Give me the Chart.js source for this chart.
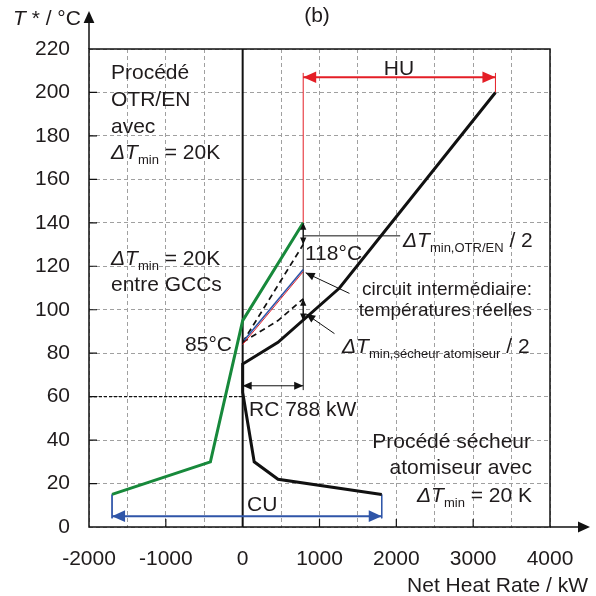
<!DOCTYPE html>
<html>
<head>
<meta charset="utf-8">
<script src="https://cdn.jsdelivr.net/npm/chart.js@4.4.1/dist/chart.umd.min.js"></script>
<style>
  html, body { margin: 0; padding: 0; background: #fff; }
  #wrap { width: 596px; height: 596px; }
</style>
</head>
<body>
<div id="wrap"><canvas id="chart"></canvas></div>
<script>
// grand composite curves (net heat rate in kW, shifted temperature in °C)
const otrX = [-1700, -420, 0, 788];
const otrY = [15, 30, 95, 140];
const secX = [1810, 460, 150, 0, 0, 460, 1260, 3290];
const secY = [15, 22, 30, 62, 75, 85, 110, 200];

// curves shifted by dTmin/2
const otrShiftX = [0, 788];
const otrShiftY = [85, 130];
const secShiftX = [0, 460, 788];
const secShiftY = [85, 95, 105];

// intermediate circuit, real temperatures
const circRedX = [0, 788];
const circRedY = [84, 117.5];
const circBlueX = [20, 788];
const circBlueY = [86, 118.5];

// utilities
const huX = [788, 3290];
const huY = [207, 207];
const cuX = [-1700, 1810];
const cuY = [5, 5];
const rcX = [0, 788];
const rcY = [65, 65];

// axes
const xMin = -2000, xMax = 4000, xStep = 500;
const yMin = 0, yMax = 220, yStep = 20;
const xLabelTicks = [-2000, -1000, 0, 1000, 2000, 3000, 4000];
const xMarkTicks = [-1000, 1000, 2000, 3000];

const GREEN = '#17893b';
const BLACK = '#111111';
const RED = '#e41e26';
const BLUE = '#2f55a8';
const TEXT = '#1f1b1c';
const FAM = '"Liberation Sans", Arial, sans-serif';

const pts = (xs, ys) => xs.map((x, i) => ({ x, y: ys[i] }));
const line = (xs, ys, color, width, extra) =>
  Object.assign({ data: pts(xs, ys), borderColor: color, backgroundColor: color, borderWidth: width,
    showLine: true, pointRadius: 0, fill: false, tension: 0 }, extra || {});

const datasets = [
  line(otrX, otrY, GREEN, 3, { order: 1 }),
  line(secX, secY, BLACK, 3, { order: 1 }),
  line(circBlueX, circBlueY, BLUE, 1.6, { order: 2 }),
  line(circRedX, circRedY, RED, 1, { order: 3 }),
  line(otrShiftX, otrShiftY, BLACK, 1.7, { borderDash: [6, 4], order: 3 }),
  line(secShiftX, secShiftY, BLACK, 1.7, { borderDash: [6, 4], order: 3 }),
  line([0, 0], [yMin, yMax], BLACK, 2, { order: 5 }),
  line([xMin, 0], [60, 60], BLACK, 1.4, { borderDash: [3, 2], order: 5 }),
  // HU
  line(huX, huY, RED, 2, { heads: 'both', headSize: 13, order: 4 }),
  line([788, 788], [140, 209], RED, 1, { order: 4 }),
  line([3290, 3290], [200, 209], RED, 1, { order: 4 }),
  // CU
  line(cuX, cuY, BLUE, 2, { heads: 'both', headSize: 13, order: 4 }),
  line([-1700, -1700], [15, 4], BLUE, 1, { order: 4 }),
  line([1810, 1810], [15, 4], BLUE, 1, { order: 4 }),
  // RC
  line(rcX, rcY, BLACK, 1, { heads: 'both', headSize: 9, order: 4 }),
  line([788, 788], [63, 140], BLACK, 1, { order: 4 }),
  line([788, 2050], [134, 134], BLACK, 1, { order: 4 }),
  // dTmin/2 markers
  line([788, 788], [130, 140], BLACK, 1, { heads: 'both', headSize: 7, order: 4 }),
  line([788, 788], [95, 105], BLACK, 1, { heads: 'both', headSize: 7, order: 4 }),
  // pointers
  line([1390, 820], [107.5, 117], BLACK, 1, { heads: 'end', headSize: 9, order: 4 }),
  line([1195, 827], [89, 98], BLACK, 1, { heads: 'end', headSize: 9, order: 4 })
];

function head(ctx, a, b, size, color) {
  const ang = Math.atan2(b.y - a.y, b.x - a.x);
  ctx.save();
  ctx.translate(b.x, b.y);
  ctx.rotate(ang);
  ctx.beginPath();
  ctx.moveTo(0, 0);
  ctx.lineTo(-size, -size * 0.45);
  ctx.lineTo(-size, size * 0.45);
  ctx.closePath();
  ctx.fillStyle = color;
  ctx.fill();
  ctx.restore();
}

function rich(ctx, x, y, parts, align) {
  let w = 0;
  parts.forEach(p => { ctx.font = p[1]; w += ctx.measureText(p[0]).width; });
  let cx = align === 'right' ? x - w : align === 'center' ? x - w / 2 : x;
  ctx.textBaseline = 'alphabetic';
  ctx.textAlign = 'left';
  parts.forEach(p => {
    ctx.font = p[1];
    ctx.fillText(p[0], cx, y + (p[2] || 0));
    cx += ctx.measureText(p[0]).width;
  });
}

const F = '21px ' + FAM;
const FI = 'italic 21px ' + FAM;
const FS = '13px ' + FAM;
const FC = '19px ' + FAM;
const dT = (sub) => [['Δ', FI], ['T', FI], [sub, FS, 5]];

const texts = [
  [111, 79, [['Procédé', F]], 'left'],
  [111, 106, [['OTR/EN', F]], 'left'],
  [111, 132.5, [['avec', F]], 'left'],
  [111, 158.5, dT('min').concat([[' = 20K', F]]), 'left'],
  [111, 265, dT('min').concat([[' = 20K', F]]), 'left'],
  [111, 291, [['entre GCCs', F]], 'left'],
  [232, 351, [['85°C', F]], 'right'],
  [305, 260, [['118°C', F]], 'left'],
  [399, 75, [['HU', F]], 'center'],
  [403, 247, dT('min,OTR/EN').concat([[' / 2', F]]), 'left'],
  [532, 295, [['circuit intermédiaire:', FC]], 'right'],
  [532, 316, [['températures réelles', FC]], 'right'],
  [342, 353, dT('min,sécheur atomiseur').concat([[' / 2', F]]), 'left'],
  [249, 416, [['RC 788 kW', F]], 'left'],
  [531, 448, [['Procédé sécheur', F]], 'right'],
  [532, 474, [['atomiseur avec', F]], 'right'],
  [532, 502, dT('min').concat([[' = 20 K', F]]), 'right'],
  [247, 511, [['CU', F]], 'left'],
  [317, 21.5, [['(b)', F]], 'center'],
  [13, 25, [['T', FI], [' * / °C', F]], 'left'],
  [588, 592, [['Net Heat Rate / kW', F]], 'right']
];

const decor = {
  id: 'decor',
  afterDatasetsDraw(chart) {
    const ctx = chart.ctx;
    const a = chart.chartArea;
    const xs = chart.scales.x, ys = chart.scales.y;

    chart.data.datasets.forEach((ds, i) => {
      if (!ds.heads) return;
      const p = chart.getDatasetMeta(i).data;
      const n = p.length;
      if (ds.heads !== 'start') head(ctx, p[n - 2], p[n - 1], ds.headSize, ds.borderColor);
      if (ds.heads !== 'end') head(ctx, p[1], p[0], ds.headSize, ds.borderColor);
    });

    ctx.save();
    ctx.strokeStyle = BLACK;
    ctx.lineWidth = 1.5;
    ctx.strokeRect(a.left, a.top, a.right - a.left, a.bottom - a.top);
    // axis arrows
    ctx.beginPath();
    ctx.moveTo(a.left, a.top);
    ctx.lineTo(a.left, 20);
    ctx.moveTo(a.right, a.bottom);
    ctx.lineTo(580, a.bottom);
    ctx.stroke();
    head(ctx, { x: a.left, y: a.top }, { x: a.left, y: 11 }, 12, BLACK);
    head(ctx, { x: a.left, y: a.bottom }, { x: 590, y: a.bottom }, 12, BLACK);
    // inner tick marks
    ctx.lineWidth = 1.2;
    ctx.beginPath();
    xMarkTicks.forEach(v => {
      const px = xs.getPixelForValue(v);
      ctx.moveTo(px, a.bottom);
      ctx.lineTo(px, a.bottom - 8);
    });
    for (let v = yMin + yStep; v < yMax; v += yStep) {
      const py = ys.getPixelForValue(v);
      ctx.moveTo(a.left, py);
      ctx.lineTo(a.left + 8, py);
    }
    ctx.stroke();

    ctx.fillStyle = TEXT;
    texts.forEach(t => rich(ctx, t[0], t[1], t[2], t[3]));
    ctx.restore();
  }
};

new Chart(document.getElementById('chart'), {
  type: 'scatter',
  data: { datasets },
  options: {
    responsive: true,
    maintainAspectRatio: false,
    animation: false,
    layout: { padding: { left: 0, right: 46, top: 49, bottom: 0 } },
    plugins: { legend: { display: false }, tooltip: { enabled: false } },
    scales: {
      x: {
        type: 'linear', min: xMin, max: xMax,
        afterFit: s => { s.height = 69; },
        grid: { color: '#a0a0a0', lineWidth: 1, drawTicks: false },
        border: { display: false, dash: [4, 3] },
        ticks: {
          stepSize: xStep, autoSkip: false, maxRotation: 0, minRotation: 0, padding: 20,
          color: TEXT, font: { family: FAM, size: 21 },
          callback: v => xLabelTicks.includes(v) ? String(v) : ''
        }
      },
      y: {
        type: 'linear', min: yMin, max: yMax,
        afterFit: s => { s.width = 89; },
        grid: { color: '#a0a0a0', lineWidth: 1, drawTicks: false },
        border: { display: false, dash: [4, 3] },
        ticks: {
          stepSize: yStep, padding: 19, color: TEXT, font: { family: FAM, size: 21 },
          callback: v => String(v)
        }
      }
    }
  },
  plugins: [decor]
});
</script>
</body>
</html>
